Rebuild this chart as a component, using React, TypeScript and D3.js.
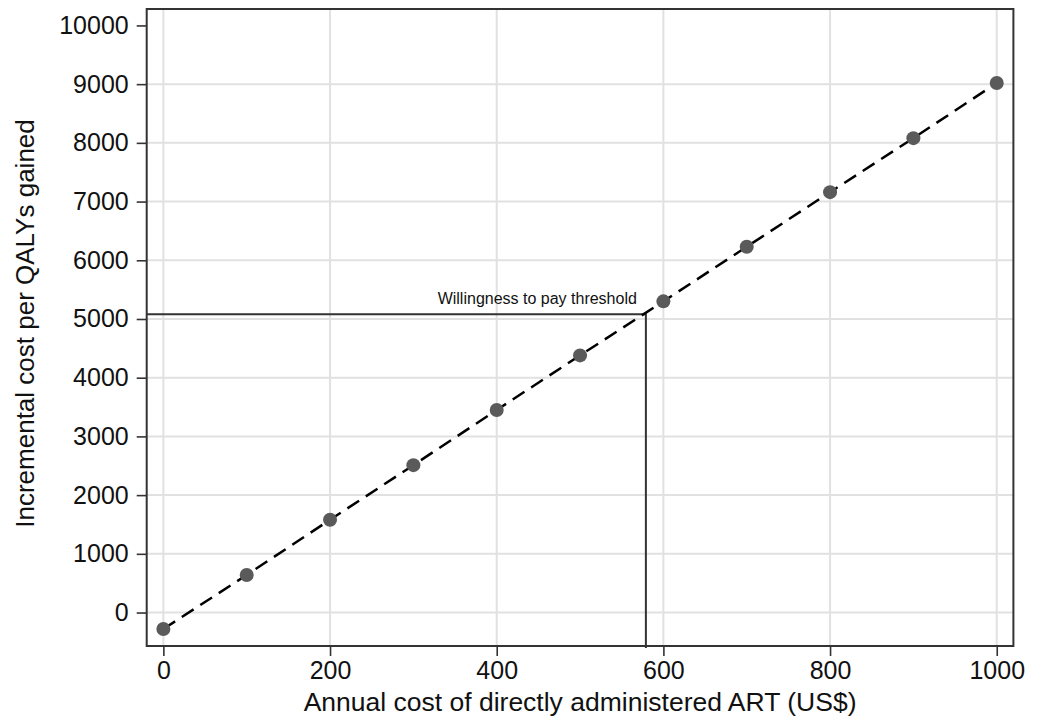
import { useEffect, useRef } from 'react'
import * as d3 from 'd3'

// Annual ART cost (US$) and the resulting ICER
const artCost = [0, 100, 200, 300, 400, 500, 600, 700, 800, 900, 1000]
const costPerQaly = [-280, 640, 1580, 2510, 3450, 4380, 5300, 6230, 7160, 8080, 9020]

const xTicks = [0, 200, 400, 600, 800, 1000]
const yTicks = [0, 1000, 2000, 3000, 4000, 5000, 6000, 7000, 8000, 9000, 10000]

// willingness-to-pay threshold (x where the line crosses, y = threshold)
const thresholdCost = [579]
const thresholdValue = [5080]

const xTitle = 'Annual cost of directly administered ART (US$)'
const yTitle = 'Incremental cost per QALYs gained'
const thresholdLabel = 'Willingness to pay threshold'

export default function App() {
  const svgRef = useRef<SVGSVGElement>(null)

  useEffect(() => {
    if (!svgRef.current) return
    const svg = d3.select(svgRef.current)
    svg.selectAll('*').remove()

    const font = 'Arial, "Liberation Sans", Helvetica, sans-serif'
    const left = 146.7
    const right = 1013.4
    const top = 9
    const bottom = 646

    const x = d3.scaleLinear().domain([-20, 1020]).range([left, right])
    const y = d3.scaleLinear().domain([-570, 10280]).range([bottom, top])
    const fmt = d3.format('d')

    svg.append('rect')
      .attr('width', 1043).attr('height', 717).attr('fill', '#fff')

    // grid
    const grid = svg.append('g')
    grid.selectAll('line.gx')
      .data(xTicks)
      .join('line')
      .attr('x1', d => x(d)).attr('x2', d => x(d))
      .attr('y1', top).attr('y2', bottom)
      .attr('stroke', '#e1e1e1').attr('stroke-width', 2)
    grid.selectAll('line.gy')
      .data(yTicks.filter(d => d < 10000))
      .join('line')
      .attr('x1', left).attr('x2', right)
      .attr('y1', d => y(d)).attr('y2', d => y(d))
      .attr('stroke', '#e1e1e1').attr('stroke-width', 2)

    // axes
    const xAxis = svg.append('g')
      .attr('transform', `translate(0,${bottom})`)
      .call(d3.axisBottom(x).tickValues(xTicks).tickFormat(d => fmt(d as number)).tickSize(10).tickPadding(5).tickSizeOuter(0))
    xAxis.select('.domain').remove()
    xAxis.selectAll('line').attr('stroke', '#333').attr('stroke-width', 1.6)
    xAxis.selectAll('text')
      .attr('font-family', font).attr('font-size', 25).attr('fill', '#111')

    const yAxis = svg.append('g')
      .attr('transform', `translate(${left},0)`)
      .call(d3.axisLeft(y).tickValues(yTicks).tickFormat(d => fmt(d as number)).tickSize(10).tickPadding(8).tickSizeOuter(0))
    yAxis.select('.domain').remove()
    yAxis.selectAll('line').attr('stroke', '#333').attr('stroke-width', 1.6)
    yAxis.selectAll('text')
      .attr('font-family', font).attr('font-size', 25).attr('fill', '#111')

    // threshold lines
    svg.append('path')
      .attr('d', `M${left},${y(thresholdValue[0])}H${x(thresholdCost[0])}V${bottom + 2}`)
      .attr('fill', 'none').attr('stroke', '#333').attr('stroke-width', 2)

    svg.append('text')
      .attr('x', x(thresholdCost[0]) - 9)
      .attr('y', y(thresholdValue[0]) - 10)
      .attr('text-anchor', 'end')
      .attr('font-family', font).attr('font-size', 16).attr('fill', '#111')
      .text(thresholdLabel)

    // dashed line through the points
    const pts = artCost.map((c, i) => [c, costPerQaly[i]] as [number, number])
    svg.append('path')
      .datum(pts)
      .attr('d', d3.line<[number, number]>().x(d => x(d[0])).y(d => y(d[1])))
      .attr('fill', 'none').attr('stroke', '#000').attr('stroke-width', 2.5)
      .attr('stroke-dasharray', '14,8')

    svg.selectAll('circle')
      .data(pts)
      .join('circle')
      .attr('cx', d => x(d[0])).attr('cy', d => y(d[1]))
      .attr('r', 7)
      .attr('fill', '#5a5a5a')

    // frame
    svg.append('rect')
      .attr('x', left).attr('y', top)
      .attr('width', right - left).attr('height', bottom - top)
      .attr('fill', 'none').attr('stroke', '#333').attr('stroke-width', 2)

    // titles
    svg.append('text')
      .attr('x', (left + right) / 2).attr('y', 711)
      .attr('text-anchor', 'middle')
      .attr('font-family', font).attr('font-size', 26.5).attr('fill', '#111')
      .text(xTitle)

    svg.append('text')
      .attr('transform', `translate(34,${(top + bottom) / 2 - 4}) rotate(-90)`)
      .attr('text-anchor', 'middle')
      .attr('font-family', font).attr('font-size', 26).attr('fill', '#111')
      .text(yTitle)
  }, [])

  return (
    <svg
      ref={svgRef}
      width={1043}
      height={717}
      style={{ position: 'absolute', left: 0, top: 0, display: 'block' }}
    />
  )
}
